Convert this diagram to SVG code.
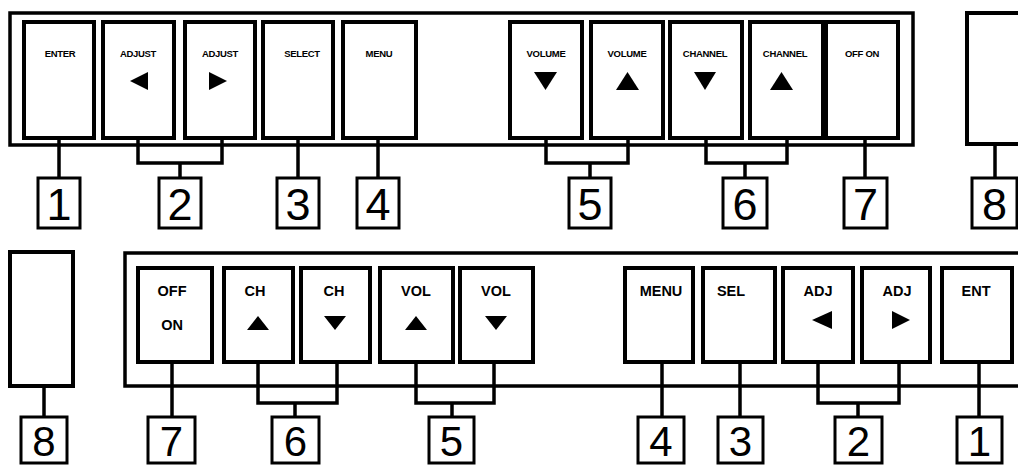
<svg xmlns="http://www.w3.org/2000/svg" width="1018" height="466" viewBox="0 0 1018 466">
<style>
.panel{fill:none;stroke:#000;stroke-width:3.5}
.btn{fill:#fff;stroke:#000;stroke-width:4}
.lbl{fill:#fff;stroke:#000;stroke-width:3}
.con{fill:none;stroke:#000;stroke-width:3.5}
.t1{font-family:"Liberation Sans",Arial,sans-serif;font-weight:bold;font-size:9.5px;text-anchor:middle;letter-spacing:-0.3px}
.t2{font-family:"Liberation Sans",Arial,sans-serif;font-weight:bold;font-size:14.5px;text-anchor:middle}
.num{font-family:"Liberation Sans",Arial,sans-serif;font-size:45px;text-anchor:middle}
.numb{font-family:"Liberation Sans",Arial,sans-serif;font-size:42px;text-anchor:middle}
.tri{fill:#000}
</style>
<rect width="1018" height="466" fill="#fff"/>

<!-- top row panels -->
<g id="top-panel"><rect class="panel" x="10" y="13" width="903" height="132"/></g>
<g id="top-unit8"><rect class="btn" x="967" y="13" width="60" height="131"/></g>

<!-- bottom row panels -->
<g id="bottom-panel"><rect class="panel" x="125" y="253" width="910" height="133"/></g>
<g id="bottom-unit8"><rect class="btn" x="10" y="252" width="63" height="134"/></g>

<!-- connectors -->
<g id="connectors" class="con">
<path d="M59 138V178"/>
<path d="M138 138V163H222V138M180 163V178"/>
<path d="M298 138V178"/>
<path d="M378 138V178"/>
<path d="M546 138V163H628V138M590 163V178"/>
<path d="M706 138V163H787V138M745 163V178"/>
<path d="M865 138V178"/>
<path d="M995 144V178"/>
<path d="M44 386V417"/>
<path d="M172 362V417"/>
<path d="M258 362V403H337V362M295 403V417"/>
<path d="M416 362V403H494V362M452 403V417"/>
<path d="M662 362V417"/>
<path d="M740 362V417"/>
<path d="M818 362V403H899V362M858 403V417"/>
<path d="M979 362V417"/>
</g>

<!-- top row buttons -->
<g id="t-enter"><rect class="btn" x="24" y="22" width="70" height="116"/><text class="t1" x="60" y="57">ENTER</text></g>
<g id="t-adjust-left"><rect class="btn" x="103" y="22" width="71" height="116"/><text class="t1" x="138" y="57">ADJUST</text><polygon class="tri" points="130,81 148,72 148,90"/></g>
<g id="t-adjust-right"><rect class="btn" x="185" y="22" width="70" height="116"/><text class="t1" x="220" y="57">ADJUST</text><polygon class="tri" points="209,72 227,81 209,90"/></g>
<g id="t-select"><rect class="btn" x="263" y="22" width="70" height="116"/><text class="t1" x="302" y="57">SELECT</text></g>
<g id="t-menu"><rect class="btn" x="343" y="22" width="73" height="116"/><text class="t1" x="379" y="57">MENU</text></g>
<g id="t-vol-down"><rect class="btn" x="510" y="22" width="72" height="116"/><text class="t1" x="546" y="57">VOLUME</text><polygon class="tri" points="534,72 557,72 545.5,90"/></g>
<g id="t-vol-up"><rect class="btn" x="591" y="22" width="72" height="116"/><text class="t1" x="627" y="57">VOLUME</text><polygon class="tri" points="616,90 639,90 627.5,72"/></g>
<g id="t-ch-down"><rect class="btn" x="670" y="22" width="72" height="116"/><text class="t1" x="705" y="57">CHANNEL</text><polygon class="tri" points="694,72 716,72 705,90"/></g>
<g id="t-ch-up"><rect class="btn" x="750" y="22" width="73" height="116"/><text class="t1" x="785" y="57">CHANNEL</text><polygon class="tri" points="770,90 793,90 781.5,72"/></g>
<g id="t-power"><rect class="btn" x="826" y="22" width="72" height="116"/><text class="t1" x="862" y="57">OFF ON</text></g>

<!-- top labels -->
<g id="t-l1"><rect class="lbl" x="38" y="178" width="42" height="50"/><text class="num" x="59" y="220">1</text></g>
<g id="t-l2"><rect class="lbl" x="159" y="178" width="42" height="50"/><text class="num" x="180" y="220">2</text></g>
<g id="t-l3"><rect class="lbl" x="277" y="178" width="42" height="50"/><text class="num" x="298" y="220">3</text></g>
<g id="t-l4"><rect class="lbl" x="357" y="178" width="42" height="50"/><text class="num" x="378" y="220">4</text></g>
<g id="t-l5"><rect class="lbl" x="569" y="178" width="42" height="50"/><text class="num" x="590" y="220">5</text></g>
<g id="t-l6"><rect class="lbl" x="723" y="178" width="44" height="50"/><text class="num" x="745" y="220">6</text></g>
<g id="t-l7"><rect class="lbl" x="844" y="178" width="43" height="50"/><text class="num" x="865.5" y="220">7</text></g>
<g id="t-l8"><rect class="lbl" x="972" y="178" width="45" height="50"/><text class="num" x="994.5" y="220">8</text></g>

<!-- bottom row buttons -->
<g id="b-power"><rect class="btn" x="138" y="268" width="74" height="94"/><text class="t2" x="172" y="296">OFF</text><text class="t2" x="172" y="330">ON</text></g>
<g id="b-ch-up"><rect class="btn" x="224" y="268" width="69" height="94"/><text class="t2" x="255" y="296">CH</text><polygon class="tri" points="247,330 269,330 258,316"/></g>
<g id="b-ch-down"><rect class="btn" x="301" y="268" width="69" height="94"/><text class="t2" x="334" y="296">CH</text><polygon class="tri" points="324,316 346,316 335,330"/></g>
<g id="b-vol-up"><rect class="btn" x="380" y="268" width="73" height="94"/><text class="t2" x="416" y="296">VOL</text><polygon class="tri" points="405,330 427,330 416,316"/></g>
<g id="b-vol-down"><rect class="btn" x="460" y="268" width="73" height="94"/><text class="t2" x="496" y="296">VOL</text><polygon class="tri" points="485,316 507,316 496,330"/></g>
<g id="b-menu"><rect class="btn" x="625" y="268" width="68" height="94"/><text class="t2" x="661" y="296">MENU</text></g>
<g id="b-sel"><rect class="btn" x="703" y="268" width="72" height="94"/><text class="t2" x="731" y="296">SEL</text></g>
<g id="b-adj-left"><rect class="btn" x="783" y="268" width="70" height="94"/><text class="t2" x="818" y="296">ADJ</text><polygon class="tri" points="812,320 832,311 832,329"/></g>
<g id="b-adj-right"><rect class="btn" x="862" y="268" width="68" height="94"/><text class="t2" x="897" y="296">ADJ</text><polygon class="tri" points="892,311 910,320 892,329"/></g>
<g id="b-ent"><rect class="btn" x="942" y="268" width="70" height="94"/><text class="t2" x="976" y="296">ENT</text></g>

<!-- bottom labels -->
<g id="b-l8"><rect class="lbl" x="21" y="417" width="46" height="46"/><text class="numb" x="44" y="456">8</text></g>
<g id="b-l7"><rect class="lbl" x="148" y="417" width="47" height="46"/><text class="numb" x="171.5" y="456">7</text></g>
<g id="b-l6"><rect class="lbl" x="272" y="417" width="47" height="46"/><text class="numb" x="295.5" y="456">6</text></g>
<g id="b-l5"><rect class="lbl" x="429" y="417" width="45" height="46"/><text class="numb" x="451.5" y="456">5</text></g>
<g id="b-l4"><rect class="lbl" x="638" y="417" width="46" height="46"/><text class="numb" x="661" y="456">4</text></g>
<g id="b-l3"><rect class="lbl" x="718" y="417" width="45" height="46"/><text class="numb" x="740.5" y="456">3</text></g>
<g id="b-l2"><rect class="lbl" x="835" y="417" width="47" height="46"/><text class="numb" x="858.5" y="456">2</text></g>
<g id="b-l1"><rect class="lbl" x="957" y="417" width="45" height="46"/><text class="numb" x="979.5" y="456">1</text></g>
</svg>
